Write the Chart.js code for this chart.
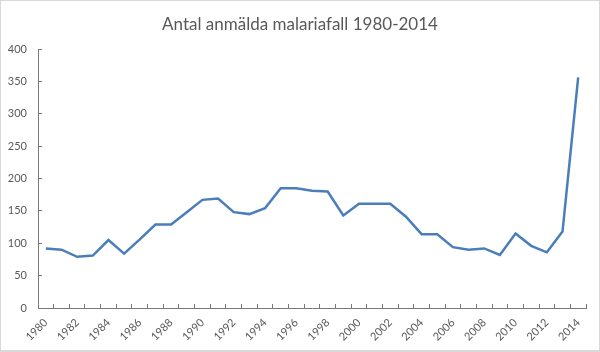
<!DOCTYPE html>
<html>
<head>
<meta charset="utf-8">
<script src="https://cdn.jsdelivr.net/npm/chart.js@4.4.1/dist/chart.umd.min.js"></script>
<style>
  html, body { margin: 0; padding: 0; background: #fff; }
  #wrap { position: relative; width: 600px; height: 352px; }
  #frame { position: absolute; left: 0; top: 0; width: 600px; height: 352px;
           box-sizing: border-box; border: 1px solid #d9d9d9; border-bottom-width: 2px;
           pointer-events: none; }
</style>
</head>
<body>
<div id="wrap">
  <canvas id="chart" width="600" height="352"></canvas>
  <div id="frame"></div>
</div>
<script>
// Anmälda malariafall per år
const years = [];
for (let y = 1980; y <= 2014; y++) years.push(String(y));
const cases = [92, 90, 79, 81, 105, 84, 106, 129, 129, 148,
               167, 169, 148, 145, 154, 185, 185, 181, 180, 143,
               161, 161, 161, 141, 114, 114, 94, 90, 92, 82,
               115, 96, 86, 118, 356];
const yTicks = [0, 50, 100, 150, 200, 250, 300, 350, 400];

const axisColor = "#7a7a7a";
const textColor = "#595959";

Chart.defaults.font.family = "Lato, 'Noto Sans', sans-serif";
Chart.defaults.color = textColor;

new Chart(document.getElementById("chart"), {
    type: "line",
    data: {
        labels: years,
        datasets: [{
            data: cases,
            borderColor: "#4a7ebb",
            borderWidth: 2.5,
            pointRadius: 0,
            tension: 0,
            fill: false,
        }],
    },
    options: {
        responsive: false,
        animation: false,
        layout: { padding: 0 },
        plugins: {
            legend: { display: false },
            tooltip: { enabled: false },
            title: {
                display: true,
                text: "Antal anmälda malariafall 1980-2014",
                color: textColor,
                font: { size: 17, weight: "normal" },
                padding: { top: 14, bottom: 14.6 },
            },
        },
        scales: {
            x: {
                offset: true,
                grid: { offset: true, drawOnChartArea: false, tickLength: -4, color: axisColor },
                border: { color: axisColor, width: 1 },
                ticks: {
                    autoSkip: false,
                    minRotation: 45,
                    maxRotation: 45,
                    padding: 12,
                    font: { size: 11 },
                    callback: function (v, i) {
                        return i % 2 === 0 ? this.getLabelForValue(v) : "";
                    },
                },
                afterFit: (s) => { s.height = 44; },
            },
            y: {
                min: yTicks[0],
                max: yTicks[yTicks.length - 1],
                afterBuildTicks: (s) => { s.ticks = yTicks.map((v) => ({ value: v })); },
                grid: { drawOnChartArea: false, tickLength: -4, color: axisColor },
                border: { color: axisColor, width: 1 },
                ticks: { padding: 15, font: { size: 11 } },
                afterFit: (s) => { s.width = 38; },
            },
            // empty right-hand margin, so the title stays centred on the whole canvas
            spacer: {
                position: "right",
                grid: { display: false },
                border: { display: false },
                ticks: { display: false },
                afterFit: (s) => { s.width = 14; },
            },
        },
    },
});
</script>
</body>
</html>
